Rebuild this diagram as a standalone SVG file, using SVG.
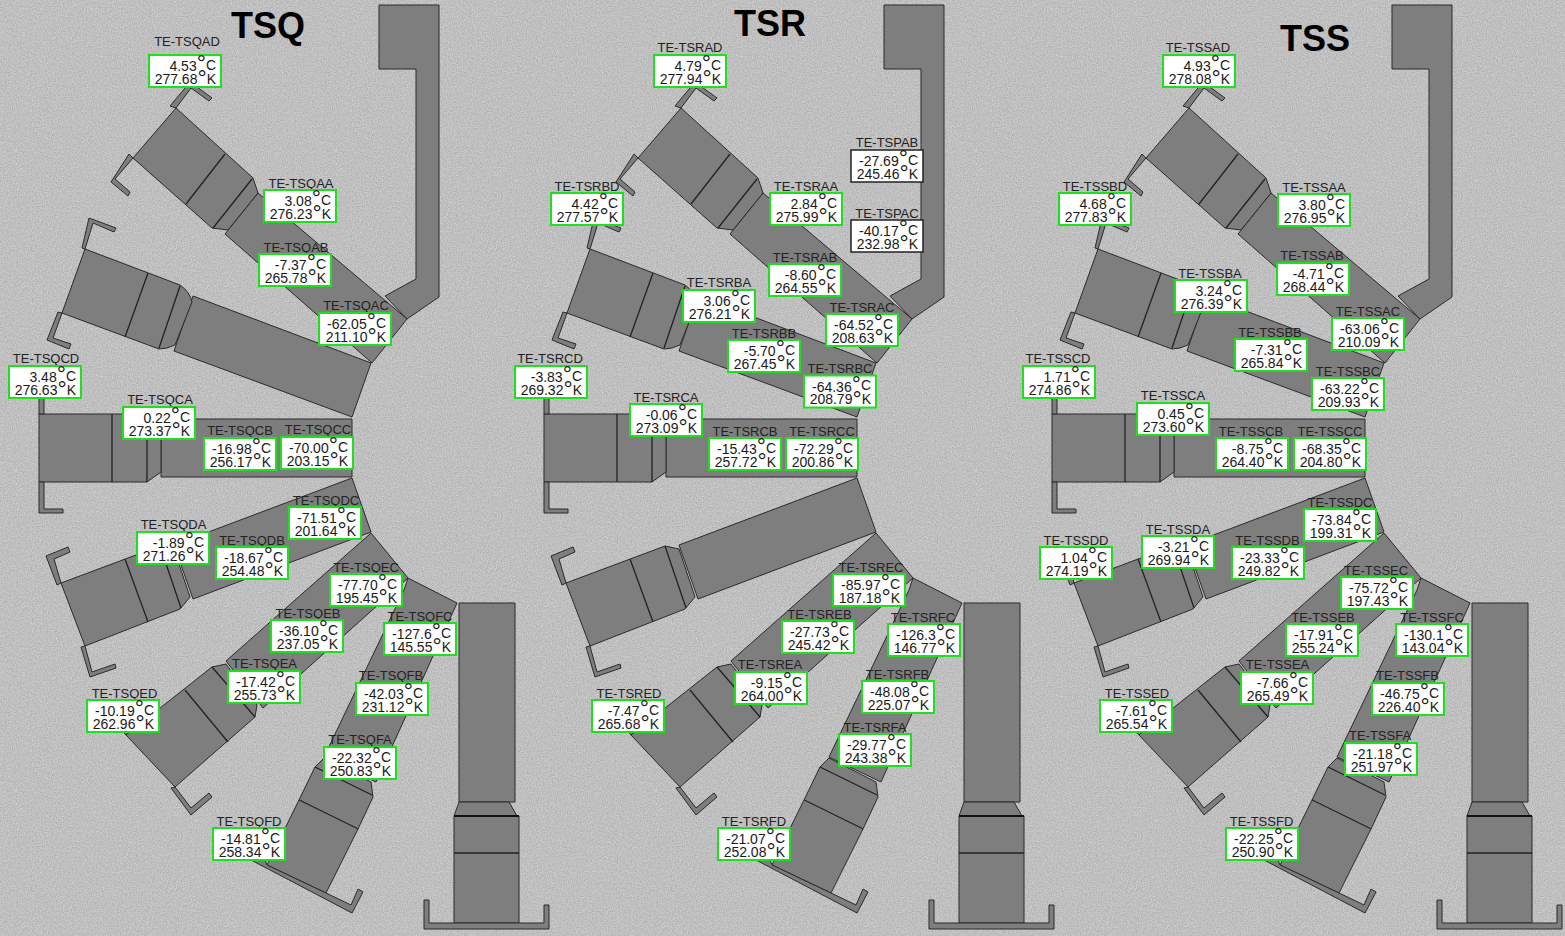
<svg xmlns="http://www.w3.org/2000/svg" xmlns:xlink="http://www.w3.org/1999/xlink" width="1565" height="936" viewBox="0 0 1565 936">
<style>
text{font-family:"Liberation Sans",Arial,sans-serif;fill:#1a1a1a}
.l{font-size:13px;text-anchor:middle;fill:#222}
.v{font-size:14px;text-anchor:end;transform:translateY(1px)}
.d{font-size:23px}
.b{fill:#fff;stroke:#1fe01f;stroke-width:2}
.k{fill:#fff;stroke:#222;stroke-width:1.5}
.t{font-size:36px;font-weight:bold;fill:#000}
.s{fill:#7e7e7e;stroke:#2a2a2a;stroke-width:1;stroke-linejoin:round}
.i{fill:none;stroke:#222;stroke-width:1.3}
</style>
<defs>
<filter id="noise" x="0" y="0" width="100%" height="100%" color-interpolation-filters="sRGB">
<feTurbulence type="fractalNoise" baseFrequency="0.8" numOctaves="2" seed="4"/>
<feColorMatrix type="matrix" values="0.22 0 0 0 0.64  0.22 0 0 0 0.64  0.22 0 0 0 0.64  0 0 0 0 1"/>
</filter>
<g id="unit">
<path class="s" d="M379 5H439V297L407 319L385 296L416 279V69H379Z"/>
<path class="s" d="M258 193L407 319L372 363L225 234Z"/>
<path class="s" d="M176 108L253 178L258 193L228 230L212 228L133 158Z"/>
<path class="i" d="M225 154L186 204M252 179L213 228"/>
<path class="s" d="M176 108L170 106L190 82L212 98L209 101L191 88Z"/>
<path class="s" d="M133 158L115 179L130 192L128 196L111 182L129 154Z"/>
<path class="s" d="M193 296L371 363L352 417L174 351Z"/>
<path class="s" d="M85 249L180 285Q190 292 192 302L175 345Q167 349 159 349L62 313Z"/>
<path class="i" d="M148 273L125 337M180 286L159 348"/>
<path class="s" d="M82 248L89 218L116 228L114 232L93 223L85 249Z"/>
<path class="s" d="M62 313L53 338L71 344L69 349L47 340L58 312Z"/>
<path class="s" d="M161 419H352V477H161Z"/>
<path class="s" d="M39 414H147L161 423V472L147 482H39Z"/>
<path class="i" d="M112 414V482M147 414V482"/>
<path class="s" d="M39 414V385H44V414Z"/>
<path class="s" d="M39 482V513H63V509H44V482Z"/>
<path class="s" d="M352 478L371 532L193 599L174 545Z"/>
<path class="s" d="M61 583L160 546L174 549L190 597L180 609L85 646Z"/>
<path class="i" d="M125 559L148 622M160 546L181 608"/>
<path class="s" d="M61 583L54 559L70 552L68 547L46 556L57 585Z"/>
<path class="s" d="M85 646L92 672L115 664L116 668L90 677L81 647Z"/>
<path class="s" d="M371 533L408 578L263 708L226 661Z"/>
<path class="s" d="M126 735L212 667L226 664L257 705L255 717L175 787Z"/>
<path class="i" d="M185 690L228 742M212 667L255 717"/>
<path class="s" d="M126 735L116 724L122 720L130 731Z"/>
<path class="s" d="M175 787L191 808L209 793L212 797L191 815L171 788Z"/>
<path class="s" d="M408 578L457 603L376 782L324 757L404 590Z"/>
<path class="s" d="M315 767L324 758L371 782L373 797L358 829L299 800Z"/>
<path class="i" d="M315 767L372 795M299 800L358 829"/>
<path class="s" d="M299 800L358 829L326 893L267 865Z"/>
<path class="s" d="M265 860L251 860L352 913L363 892L358 889L351 905L326 893L267 865Z"/>
<path class="s" d="M459 603H515V802H459Z"/>
<path class="s" d="M459 802H509L517 816H454Z"/>
<path class="s" d="M454 816H519V923H454Z"/>
<path d="M454 816H519" stroke="#111" stroke-width="2" fill="none"/>
<path class="i" d="M454 853H519"/>
<path class="s" d="M424 900H429V923H544V905H549V929H424Z"/>
</g>
</defs>
<rect id="background" width="1565" height="936" fill="#c0c0c0" filter="url(#noise)"/>
<g id="units">
<use xlink:href="#unit" href="#unit" x="0"/>
<use xlink:href="#unit" href="#unit" x="505"/>
<use xlink:href="#unit" href="#unit" x="1013"/>
</g>
<g id="titles">
<text class="t" x="231" y="38">TSQ</text>
<text class="t" x="734" y="36">TSR</text>
<text class="t" x="1280" y="51">TSS</text>
</g>
<g id="TE-TSQAD"><text class="l" x="187" y="46">TE-TSQAD</text><rect class="b" x="149" y="55" width="72" height="32"/><text class="v" x="216" y="70">4.53<tspan class="d">°</tspan><tspan dy="-1.5">C</tspan></text><text class="v" x="216" y="82.5">277.68<tspan class="d" dy="2.5">°</tspan><tspan dy="-2.5">K</tspan></text></g>
<g id="TE-TSQAA"><text class="l" x="301" y="188">TE-TSQAA</text><rect class="b" x="264" y="190" width="72" height="32"/><text class="v" x="331" y="205">3.08<tspan class="d">°</tspan><tspan dy="-1.5">C</tspan></text><text class="v" x="331" y="217.5">276.23<tspan class="d" dy="2.5">°</tspan><tspan dy="-2.5">K</tspan></text></g>
<g id="TE-TSQAB"><text class="l" x="296" y="252">TE-TSQAB</text><rect class="b" x="259" y="254" width="72" height="32"/><text class="v" x="326" y="269">-7.37<tspan class="d">°</tspan><tspan dy="-1.5">C</tspan></text><text class="v" x="326" y="281.5">265.78<tspan class="d" dy="2.5">°</tspan><tspan dy="-2.5">K</tspan></text></g>
<g id="TE-TSQAC"><text class="l" x="356" y="310">TE-TSQAC</text><rect class="b" x="319" y="313" width="72" height="32"/><text class="v" x="386" y="328">-62.05<tspan class="d">°</tspan><tspan dy="-1.5">C</tspan></text><text class="v" x="386" y="340.5">211.10<tspan class="d" dy="2.5">°</tspan><tspan dy="-2.5">K</tspan></text></g>
<g id="TE-TSQCD"><text class="l" x="46" y="363">TE-TSQCD</text><rect class="b" x="9" y="366" width="72" height="32"/><text class="v" x="76" y="381">3.48<tspan class="d">°</tspan><tspan dy="-1.5">C</tspan></text><text class="v" x="76" y="393.5">276.63<tspan class="d" dy="2.5">°</tspan><tspan dy="-2.5">K</tspan></text></g>
<g id="TE-TSQCA"><text class="l" x="160" y="404">TE-TSQCA</text><rect class="b" x="123" y="407" width="72" height="32"/><text class="v" x="190" y="422">0.22<tspan class="d">°</tspan><tspan dy="-1.5">C</tspan></text><text class="v" x="190" y="434.5">273.37<tspan class="d" dy="2.5">°</tspan><tspan dy="-2.5">K</tspan></text></g>
<g id="TE-TSQCB"><text class="l" x="240" y="435">TE-TSQCB</text><rect class="b" x="204" y="438" width="72" height="32"/><text class="v" x="271" y="453">-16.98<tspan class="d">°</tspan><tspan dy="-1.5">C</tspan></text><text class="v" x="271" y="465.5">256.17<tspan class="d" dy="2.5">°</tspan><tspan dy="-2.5">K</tspan></text></g>
<g id="TE-TSQCC"><text class="l" x="318" y="434">TE-TSQCC</text><rect class="b" x="281" y="437" width="72" height="32"/><text class="v" x="348" y="452">-70.00<tspan class="d">°</tspan><tspan dy="-1.5">C</tspan></text><text class="v" x="348" y="464.5">203.15<tspan class="d" dy="2.5">°</tspan><tspan dy="-2.5">K</tspan></text></g>
<g id="TE-TSQDC"><text class="l" x="326" y="505">TE-TSQDC</text><rect class="b" x="289" y="507" width="72" height="32"/><text class="v" x="356" y="522">-71.51<tspan class="d">°</tspan><tspan dy="-1.5">C</tspan></text><text class="v" x="356" y="534.5">201.64<tspan class="d" dy="2.5">°</tspan><tspan dy="-2.5">K</tspan></text></g>
<g id="TE-TSQDA"><text class="l" x="173.500" y="529">TE-TSQDA</text><rect class="b" x="137" y="532" width="72" height="32"/><text class="v" x="204" y="547">-1.89<tspan class="d">°</tspan><tspan dy="-1.5">C</tspan></text><text class="v" x="204" y="559.5">271.26<tspan class="d" dy="2.5">°</tspan><tspan dy="-2.5">K</tspan></text></g>
<g id="TE-TSQDB"><text class="l" x="252" y="545">TE-TSQDB</text><rect class="b" x="216" y="547" width="72" height="32"/><text class="v" x="283" y="562">-18.67<tspan class="d">°</tspan><tspan dy="-1.5">C</tspan></text><text class="v" x="283" y="574.5">254.48<tspan class="d" dy="2.5">°</tspan><tspan dy="-2.5">K</tspan></text></g>
<g id="TE-TSQEC"><text class="l" x="366" y="572">TE-TSQEC</text><rect class="b" x="330" y="574" width="72" height="32"/><text class="v" x="397" y="589">-77.70<tspan class="d">°</tspan><tspan dy="-1.5">C</tspan></text><text class="v" x="397" y="601.5">195.45<tspan class="d" dy="2.5">°</tspan><tspan dy="-2.5">K</tspan></text></g>
<g id="TE-TSQEB"><text class="l" x="308" y="618">TE-TSQEB</text><rect class="b" x="271" y="620" width="72" height="32"/><text class="v" x="338" y="635">-36.10<tspan class="d">°</tspan><tspan dy="-1.5">C</tspan></text><text class="v" x="338" y="647.5">237.05<tspan class="d" dy="2.5">°</tspan><tspan dy="-2.5">K</tspan></text></g>
<g id="TE-TSQFC"><text class="l" x="420" y="621">TE-TSQFC</text><rect class="b" x="384" y="623" width="72" height="32"/><text class="v" x="451" y="638">-127.6<tspan class="d">°</tspan><tspan dy="-1.5">C</tspan></text><text class="v" x="451" y="650.5">145.55<tspan class="d" dy="2.5">°</tspan><tspan dy="-2.5">K</tspan></text></g>
<g id="TE-TSQEA"><text class="l" x="264.500" y="668">TE-TSQEA</text><rect class="b" x="228" y="671" width="72" height="32"/><text class="v" x="295" y="686">-17.42<tspan class="d">°</tspan><tspan dy="-1.5">C</tspan></text><text class="v" x="295" y="698.5">255.73<tspan class="d" dy="2.5">°</tspan><tspan dy="-2.5">K</tspan></text></g>
<g id="TE-TSQFB"><text class="l" x="391" y="680">TE-TSQFB</text><rect class="b" x="356" y="683" width="72" height="32"/><text class="v" x="423" y="698">-42.03<tspan class="d">°</tspan><tspan dy="-1.5">C</tspan></text><text class="v" x="423" y="710.5">231.12<tspan class="d" dy="2.5">°</tspan><tspan dy="-2.5">K</tspan></text></g>
<g id="TE-TSQED"><text class="l" x="124.500" y="698">TE-TSQED</text><rect class="b" x="87" y="700" width="72" height="32"/><text class="v" x="154" y="715">-10.19<tspan class="d">°</tspan><tspan dy="-1.5">C</tspan></text><text class="v" x="154" y="727.5">262.96<tspan class="d" dy="2.5">°</tspan><tspan dy="-2.5">K</tspan></text></g>
<g id="TE-TSQFA"><text class="l" x="360" y="744">TE-TSQFA</text><rect class="b" x="324" y="747" width="72" height="32"/><text class="v" x="391" y="762">-22.32<tspan class="d">°</tspan><tspan dy="-1.5">C</tspan></text><text class="v" x="391" y="774.5">250.83<tspan class="d" dy="2.5">°</tspan><tspan dy="-2.5">K</tspan></text></g>
<g id="TE-TSQFD"><text class="l" x="249" y="826">TE-TSQFD</text><rect class="b" x="213" y="828" width="72" height="32"/><text class="v" x="280" y="843">-14.81<tspan class="d">°</tspan><tspan dy="-1.5">C</tspan></text><text class="v" x="280" y="855.5">258.34<tspan class="d" dy="2.5">°</tspan><tspan dy="-2.5">K</tspan></text></g>

<g id="TE-TSRAD"><text class="l" x="690" y="52">TE-TSRAD</text><rect class="b" x="654" y="55" width="72" height="32"/><text class="v" x="721" y="70">4.79<tspan class="d">°</tspan><tspan dy="-1.5">C</tspan></text><text class="v" x="721" y="82.5">277.94<tspan class="d" dy="2.5">°</tspan><tspan dy="-2.5">K</tspan></text></g>
<g id="TE-TSPAB"><text class="l" x="887" y="147">TE-TSPAB</text><rect class="k" x="851" y="150" width="72" height="32"/><text class="v" x="918" y="165">-27.69<tspan class="d">°</tspan><tspan dy="-1.5">C</tspan></text><text class="v" x="918" y="177.5">245.46<tspan class="d" dy="2.5">°</tspan><tspan dy="-2.5">K</tspan></text></g>
<g id="TE-TSPAC"><text class="l" x="887" y="218">TE-TSPAC</text><rect class="k" x="851" y="220" width="72" height="32"/><text class="v" x="918" y="235">-40.17<tspan class="d">°</tspan><tspan dy="-1.5">C</tspan></text><text class="v" x="918" y="247.5">232.98<tspan class="d" dy="2.5">°</tspan><tspan dy="-2.5">K</tspan></text></g>
<g id="TE-TSRAA"><text class="l" x="806" y="191">TE-TSRAA</text><rect class="b" x="770" y="193" width="72" height="32"/><text class="v" x="837" y="208">2.84<tspan class="d">°</tspan><tspan dy="-1.5">C</tspan></text><text class="v" x="837" y="220.5">275.99<tspan class="d" dy="2.5">°</tspan><tspan dy="-2.5">K</tspan></text></g>
<g id="TE-TSRBD"><text class="l" x="587" y="191">TE-TSRBD</text><rect class="b" x="551" y="193" width="72" height="32"/><text class="v" x="618" y="208">4.42<tspan class="d">°</tspan><tspan dy="-1.5">C</tspan></text><text class="v" x="618" y="220.5">277.57<tspan class="d" dy="2.5">°</tspan><tspan dy="-2.5">K</tspan></text></g>
<g id="TE-TSRAB"><text class="l" x="805" y="262">TE-TSRAB</text><rect class="b" x="769" y="264" width="72" height="32"/><text class="v" x="836" y="279">-8.60<tspan class="d">°</tspan><tspan dy="-1.5">C</tspan></text><text class="v" x="836" y="291.5">264.55<tspan class="d" dy="2.5">°</tspan><tspan dy="-2.5">K</tspan></text></g>
<g id="TE-TSRBA"><text class="l" x="719" y="287">TE-TSRBA</text><rect class="b" x="683" y="290" width="72" height="32"/><text class="v" x="750" y="305">3.06<tspan class="d">°</tspan><tspan dy="-1.5">C</tspan></text><text class="v" x="750" y="317.5">276.21<tspan class="d" dy="2.5">°</tspan><tspan dy="-2.5">K</tspan></text></g>
<g id="TE-TSRAC"><text class="l" x="862" y="312">TE-TSRAC</text><rect class="b" x="826" y="314" width="72" height="32"/><text class="v" x="893" y="329">-64.52<tspan class="d">°</tspan><tspan dy="-1.5">C</tspan></text><text class="v" x="893" y="341.5">208.63<tspan class="d" dy="2.5">°</tspan><tspan dy="-2.5">K</tspan></text></g>
<g id="TE-TSRBB"><text class="l" x="764" y="338">TE-TSRBB</text><rect class="b" x="728" y="340" width="72" height="32"/><text class="v" x="795" y="355">-5.70<tspan class="d">°</tspan><tspan dy="-1.5">C</tspan></text><text class="v" x="795" y="367.5">267.45<tspan class="d" dy="2.5">°</tspan><tspan dy="-2.5">K</tspan></text></g>
<g id="TE-TSRBC"><text class="l" x="840" y="373">TE-TSRBC</text><rect class="b" x="804" y="375.500" width="72" height="32"/><text class="v" x="871" y="390.500">-64.36<tspan class="d">°</tspan><tspan dy="-1.5">C</tspan></text><text class="v" x="871" y="403">208.79<tspan class="d" dy="2.5">°</tspan><tspan dy="-2.5">K</tspan></text></g>
<g id="TE-TSRCD"><text class="l" x="550" y="363">TE-TSRCD</text><rect class="b" x="515" y="366" width="72" height="32"/><text class="v" x="582" y="381">-3.83<tspan class="d">°</tspan><tspan dy="-1.5">C</tspan></text><text class="v" x="582" y="393.5">269.32<tspan class="d" dy="2.5">°</tspan><tspan dy="-2.5">K</tspan></text></g>
<g id="TE-TSRCA"><text class="l" x="666" y="402">TE-TSRCA</text><rect class="b" x="630" y="404" width="72" height="32"/><text class="v" x="697" y="419">-0.06<tspan class="d">°</tspan><tspan dy="-1.5">C</tspan></text><text class="v" x="697" y="431.5">273.09<tspan class="d" dy="2.5">°</tspan><tspan dy="-2.5">K</tspan></text></g>
<g id="TE-TSRCB"><text class="l" x="745" y="435.500">TE-TSRCB</text><rect class="b" x="709" y="438" width="72" height="32"/><text class="v" x="776" y="453">-15.43<tspan class="d">°</tspan><tspan dy="-1.5">C</tspan></text><text class="v" x="776" y="465.5">257.72<tspan class="d" dy="2.5">°</tspan><tspan dy="-2.5">K</tspan></text></g>
<g id="TE-TSRCC"><text class="l" x="822" y="435.500">TE-TSRCC</text><rect class="b" x="786" y="438" width="72" height="32"/><text class="v" x="853" y="453">-72.29<tspan class="d">°</tspan><tspan dy="-1.5">C</tspan></text><text class="v" x="853" y="465.5">200.86<tspan class="d" dy="2.5">°</tspan><tspan dy="-2.5">K</tspan></text></g>
<g id="TE-TSREC"><text class="l" x="871" y="572">TE-TSREC</text><rect class="b" x="833" y="574" width="72" height="32"/><text class="v" x="900" y="589">-85.97<tspan class="d">°</tspan><tspan dy="-1.5">C</tspan></text><text class="v" x="900" y="601.5">187.18<tspan class="d" dy="2.5">°</tspan><tspan dy="-2.5">K</tspan></text></g>
<g id="TE-TSREB"><text class="l" x="819.500" y="619">TE-TSREB</text><rect class="b" x="782" y="621" width="72" height="32"/><text class="v" x="849" y="636">-27.73<tspan class="d">°</tspan><tspan dy="-1.5">C</tspan></text><text class="v" x="849" y="648.5">245.42<tspan class="d" dy="2.5">°</tspan><tspan dy="-2.5">K</tspan></text></g>
<g id="TE-TSRFC"><text class="l" x="923" y="622">TE-TSRFC</text><rect class="b" x="888" y="624" width="72" height="32"/><text class="v" x="955" y="639">-126.3<tspan class="d">°</tspan><tspan dy="-1.5">C</tspan></text><text class="v" x="955" y="651.5">146.77<tspan class="d" dy="2.5">°</tspan><tspan dy="-2.5">K</tspan></text></g>
<g id="TE-TSREA"><text class="l" x="770" y="669">TE-TSREA</text><rect class="b" x="735" y="672" width="72" height="32"/><text class="v" x="802" y="687">-9.15<tspan class="d">°</tspan><tspan dy="-1.5">C</tspan></text><text class="v" x="802" y="699.5">264.00<tspan class="d" dy="2.5">°</tspan><tspan dy="-2.5">K</tspan></text></g>
<g id="TE-TSRFB"><text class="l" x="897.500" y="679">TE-TSRFB</text><rect class="b" x="862" y="681" width="72" height="32"/><text class="v" x="929" y="696">-48.08<tspan class="d">°</tspan><tspan dy="-1.5">C</tspan></text><text class="v" x="929" y="708.5">225.07<tspan class="d" dy="2.5">°</tspan><tspan dy="-2.5">K</tspan></text></g>
<g id="TE-TSRED"><text class="l" x="629" y="698">TE-TSRED</text><rect class="b" x="592" y="700" width="72" height="32"/><text class="v" x="659" y="715">-7.47<tspan class="d">°</tspan><tspan dy="-1.5">C</tspan></text><text class="v" x="659" y="727.5">265.68<tspan class="d" dy="2.5">°</tspan><tspan dy="-2.5">K</tspan></text></g>
<g id="TE-TSRFA"><text class="l" x="875" y="732">TE-TSRFA</text><rect class="b" x="839" y="734" width="72" height="32"/><text class="v" x="906" y="749">-29.77<tspan class="d">°</tspan><tspan dy="-1.5">C</tspan></text><text class="v" x="906" y="761.5">243.38<tspan class="d" dy="2.5">°</tspan><tspan dy="-2.5">K</tspan></text></g>
<g id="TE-TSRFD"><text class="l" x="754" y="826">TE-TSRFD</text><rect class="b" x="718" y="828" width="72" height="32"/><text class="v" x="785" y="843">-21.07<tspan class="d">°</tspan><tspan dy="-1.5">C</tspan></text><text class="v" x="785" y="855.5">252.08<tspan class="d" dy="2.5">°</tspan><tspan dy="-2.5">K</tspan></text></g>

<g id="TE-TSSAD"><text class="l" x="1198" y="52">TE-TSSAD</text><rect class="b" x="1163" y="55" width="72" height="32"/><text class="v" x="1230" y="70">4.93<tspan class="d">°</tspan><tspan dy="-1.5">C</tspan></text><text class="v" x="1230" y="82.5">278.08<tspan class="d" dy="2.5">°</tspan><tspan dy="-2.5">K</tspan></text></g>
<g id="TE-TSSAA"><text class="l" x="1314" y="192">TE-TSSAA</text><rect class="b" x="1278" y="194" width="72" height="32"/><text class="v" x="1345" y="209">3.80<tspan class="d">°</tspan><tspan dy="-1.5">C</tspan></text><text class="v" x="1345" y="221.5">276.95<tspan class="d" dy="2.5">°</tspan><tspan dy="-2.5">K</tspan></text></g>
<g id="TE-TSSBD"><text class="l" x="1095" y="191">TE-TSSBD</text><rect class="b" x="1059" y="193" width="72" height="32"/><text class="v" x="1126" y="208">4.68<tspan class="d">°</tspan><tspan dy="-1.5">C</tspan></text><text class="v" x="1126" y="220.5">277.83<tspan class="d" dy="2.5">°</tspan><tspan dy="-2.5">K</tspan></text></g>
<g id="TE-TSSAB"><text class="l" x="1312" y="260">TE-TSSAB</text><rect class="b" x="1277" y="263" width="72" height="32"/><text class="v" x="1344" y="278">-4.71<tspan class="d">°</tspan><tspan dy="-1.5">C</tspan></text><text class="v" x="1344" y="290.5">268.44<tspan class="d" dy="2.5">°</tspan><tspan dy="-2.5">K</tspan></text></g>
<g id="TE-TSSBA"><text class="l" x="1210" y="278">TE-TSSBA</text><rect class="b" x="1175" y="280" width="72" height="32"/><text class="v" x="1242" y="295">3.24<tspan class="d">°</tspan><tspan dy="-1.5">C</tspan></text><text class="v" x="1242" y="307.5">276.39<tspan class="d" dy="2.5">°</tspan><tspan dy="-2.5">K</tspan></text></g>
<g id="TE-TSSAC"><text class="l" x="1368" y="316">TE-TSSAC</text><rect class="b" x="1332" y="318" width="72" height="32"/><text class="v" x="1399" y="333">-63.06<tspan class="d">°</tspan><tspan dy="-1.5">C</tspan></text><text class="v" x="1399" y="345.5">210.09<tspan class="d" dy="2.5">°</tspan><tspan dy="-2.5">K</tspan></text></g>
<g id="TE-TSSBB"><text class="l" x="1270" y="337">TE-TSSBB</text><rect class="b" x="1235" y="339" width="72" height="32"/><text class="v" x="1302" y="354">-7.31<tspan class="d">°</tspan><tspan dy="-1.5">C</tspan></text><text class="v" x="1302" y="366.5">265.84<tspan class="d" dy="2.5">°</tspan><tspan dy="-2.5">K</tspan></text></g>
<g id="TE-TSSBC"><text class="l" x="1348" y="375.500">TE-TSSBC</text><rect class="b" x="1312" y="378" width="72" height="32"/><text class="v" x="1379" y="393">-63.22<tspan class="d">°</tspan><tspan dy="-1.5">C</tspan></text><text class="v" x="1379" y="405.5">209.93<tspan class="d" dy="2.5">°</tspan><tspan dy="-2.5">K</tspan></text></g>
<g id="TE-TSSCD"><text class="l" x="1058" y="363">TE-TSSCD</text><rect class="b" x="1023" y="366" width="72" height="32"/><text class="v" x="1090" y="381">1.71<tspan class="d">°</tspan><tspan dy="-1.5">C</tspan></text><text class="v" x="1090" y="393.5">274.86<tspan class="d" dy="2.5">°</tspan><tspan dy="-2.5">K</tspan></text></g>
<g id="TE-TSSCA"><text class="l" x="1173" y="400">TE-TSSCA</text><rect class="b" x="1137" y="403" width="72" height="32"/><text class="v" x="1204" y="418">0.45<tspan class="d">°</tspan><tspan dy="-1.5">C</tspan></text><text class="v" x="1204" y="430.5">273.60<tspan class="d" dy="2.5">°</tspan><tspan dy="-2.5">K</tspan></text></g>
<g id="TE-TSSCB"><text class="l" x="1251" y="435.500">TE-TSSCB</text><rect class="b" x="1216" y="438" width="72" height="32"/><text class="v" x="1283" y="453">-8.75<tspan class="d">°</tspan><tspan dy="-1.5">C</tspan></text><text class="v" x="1283" y="465.5">264.40<tspan class="d" dy="2.5">°</tspan><tspan dy="-2.5">K</tspan></text></g>
<g id="TE-TSSCC"><text class="l" x="1330" y="435.500">TE-TSSCC</text><rect class="b" x="1294" y="438" width="72" height="32"/><text class="v" x="1361" y="453">-68.35<tspan class="d">°</tspan><tspan dy="-1.5">C</tspan></text><text class="v" x="1361" y="465.5">204.80<tspan class="d" dy="2.5">°</tspan><tspan dy="-2.5">K</tspan></text></g>
<g id="TE-TSSDC"><text class="l" x="1340" y="507">TE-TSSDC</text><rect class="b" x="1304" y="509" width="72" height="32"/><text class="v" x="1371" y="524">-73.84<tspan class="d">°</tspan><tspan dy="-1.5">C</tspan></text><text class="v" x="1371" y="536.5">199.31<tspan class="d" dy="2.5">°</tspan><tspan dy="-2.5">K</tspan></text></g>
<g id="TE-TSSDD"><text class="l" x="1076" y="545">TE-TSSDD</text><rect class="b" x="1040" y="547" width="72" height="32"/><text class="v" x="1107" y="562">1.04<tspan class="d">°</tspan><tspan dy="-1.5">C</tspan></text><text class="v" x="1107" y="574.5">274.19<tspan class="d" dy="2.5">°</tspan><tspan dy="-2.5">K</tspan></text></g>
<g id="TE-TSSDA"><text class="l" x="1178" y="533.500">TE-TSSDA</text><rect class="b" x="1142" y="536" width="72" height="32"/><text class="v" x="1209" y="551">-3.21<tspan class="d">°</tspan><tspan dy="-1.5">C</tspan></text><text class="v" x="1209" y="563.5">269.94<tspan class="d" dy="2.5">°</tspan><tspan dy="-2.5">K</tspan></text></g>
<g id="TE-TSSDB"><text class="l" x="1267.500" y="545">TE-TSSDB</text><rect class="b" x="1232" y="547" width="72" height="32"/><text class="v" x="1299" y="562">-23.33<tspan class="d">°</tspan><tspan dy="-1.5">C</tspan></text><text class="v" x="1299" y="574.5">249.82<tspan class="d" dy="2.5">°</tspan><tspan dy="-2.5">K</tspan></text></g>
<g id="TE-TSSEC"><text class="l" x="1376" y="575">TE-TSSEC</text><rect class="b" x="1341" y="577" width="72" height="32"/><text class="v" x="1408" y="592">-75.72<tspan class="d">°</tspan><tspan dy="-1.5">C</tspan></text><text class="v" x="1408" y="604.5">197.43<tspan class="d" dy="2.5">°</tspan><tspan dy="-2.5">K</tspan></text></g>
<g id="TE-TSSEB"><text class="l" x="1323" y="622">TE-TSSEB</text><rect class="b" x="1286" y="624" width="72" height="32"/><text class="v" x="1353" y="639">-17.91<tspan class="d">°</tspan><tspan dy="-1.5">C</tspan></text><text class="v" x="1353" y="651.5">255.24<tspan class="d" dy="2.5">°</tspan><tspan dy="-2.5">K</tspan></text></g>
<g id="TE-TSSFC"><text class="l" x="1432" y="622">TE-TSSFC</text><rect class="b" x="1396" y="624" width="72" height="32"/><text class="v" x="1463" y="639">-130.1<tspan class="d">°</tspan><tspan dy="-1.5">C</tspan></text><text class="v" x="1463" y="651.5">143.04<tspan class="d" dy="2.5">°</tspan><tspan dy="-2.5">K</tspan></text></g>
<g id="TE-TSSEA"><text class="l" x="1277.500" y="669">TE-TSSEA</text><rect class="b" x="1241" y="672" width="72" height="32"/><text class="v" x="1308" y="687">-7.66<tspan class="d">°</tspan><tspan dy="-1.5">C</tspan></text><text class="v" x="1308" y="699.5">265.49<tspan class="d" dy="2.5">°</tspan><tspan dy="-2.5">K</tspan></text></g>
<g id="TE-TSSFB"><text class="l" x="1407.500" y="680">TE-TSSFB</text><rect class="b" x="1372" y="683" width="72" height="32"/><text class="v" x="1439" y="698">-46.75<tspan class="d">°</tspan><tspan dy="-1.5">C</tspan></text><text class="v" x="1439" y="710.5">226.40<tspan class="d" dy="2.5">°</tspan><tspan dy="-2.5">K</tspan></text></g>
<g id="TE-TSSED"><text class="l" x="1137" y="698">TE-TSSED</text><rect class="b" x="1100" y="700" width="72" height="32"/><text class="v" x="1167" y="715">-7.61<tspan class="d">°</tspan><tspan dy="-1.5">C</tspan></text><text class="v" x="1167" y="727.5">265.54<tspan class="d" dy="2.5">°</tspan><tspan dy="-2.5">K</tspan></text></g>
<g id="TE-TSSFA"><text class="l" x="1380" y="740">TE-TSSFA</text><rect class="b" x="1345" y="743" width="72" height="32"/><text class="v" x="1412" y="758">-21.18<tspan class="d">°</tspan><tspan dy="-1.5">C</tspan></text><text class="v" x="1412" y="770.5">251.97<tspan class="d" dy="2.5">°</tspan><tspan dy="-2.5">K</tspan></text></g>
<g id="TE-TSSFD"><text class="l" x="1261.500" y="826">TE-TSSFD</text><rect class="b" x="1226" y="828" width="72" height="32"/><text class="v" x="1293" y="843">-22.25<tspan class="d">°</tspan><tspan dy="-1.5">C</tspan></text><text class="v" x="1293" y="855.5">250.90<tspan class="d" dy="2.5">°</tspan><tspan dy="-2.5">K</tspan></text></g>
</svg>
